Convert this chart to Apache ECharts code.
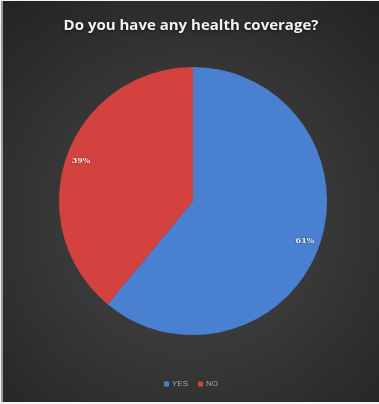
<!DOCTYPE html>
<html>
<head>
<meta charset="utf-8">
<script src="https://cdn.jsdelivr.net/npm/echarts@6/dist/echarts.min.js"></script>
<style>
  html, body { margin: 0; padding: 0; background: #f4f4f4; }
  #frame { position: absolute; left: 1px; top: 1px; width: 376px; height: 401px; border-left: 2px solid #9a9a9a; }
  #chart { width: 376px; height: 401px; }
</style>
</head>
<body>
<div id="frame"><div id="chart"></div></div>
<script>
// Survey answers and their shares (percent)
const categories = ['YES', 'NO'];
const shares = [61, 39];
const sliceColors = ['#4a80d0', '#d3423f'];

const chart = echarts.init(document.getElementById('chart'), null, { renderer: 'canvas' });

const center = [190, 200];
const outer = 134;

chart.setOption({
  backgroundColor: {
    type: 'radial', x: 0.5, y: 0.55, r: 0.75,
    colorStops: [
      { offset: 0, color: '#4a4a4a' },
      { offset: 1, color: '#242424' }
    ]
  },
  color: sliceColors,
  title: {
    text: 'Do you have any health coverage?',
    left: 'center',
    top: 12,
    textStyle: {
      color: '#f2f2f2',
      fontFamily: 'Open Sans',
      fontWeight: 'bold',
      fontSize: 15,
      textShadowColor: 'rgba(0,0,0,0.6)',
      textShadowBlur: 3,
      textShadowOffsetY: 1
    }
  },
  legend: {
    bottom: 9,
    left: 'center',
    itemWidth: 5,
    itemHeight: 5,
    itemGap: 10,
    icon: 'rect',
    data: categories,
    textStyle: { color: '#a8a8a8', fontSize: 8, fontFamily: 'Liberation Sans', padding: [0, 0, 0, -2] }
  },
  series: [
    {
      type: 'pie',
      center: center,
      radius: outer,
      startAngle: 90,
      clockwise: true,
      silent: true,
      label: { show: false },
      labelLine: { show: false },
      data: categories.map((name, i) => ({ name: name, value: shares[i] }))
    },
    {
      // transparent ring that carries the percentage labels near the rim
      type: 'pie',
      center: center,
      radius: [outer - 36, outer],
      startAngle: 90,
      clockwise: true,
      silent: true,
      legendHoverLink: false,
      itemStyle: { color: 'rgba(0,0,0,0)' },
      label: {
        show: true,
        position: 'inside',
        formatter: '{c}%',
        color: '#f0f0f0',
        fontSize: 8,
        fontWeight: 'bold',
        fontFamily: 'DejaVu Serif',
        textShadowColor: 'rgba(0,0,0,0.5)',
        textShadowBlur: 2
      },
      labelLine: { show: false },
      data: categories.map((name, i) => ({ name: name, value: shares[i] }))
    }
  ]
});
</script>
</body>
</html>
